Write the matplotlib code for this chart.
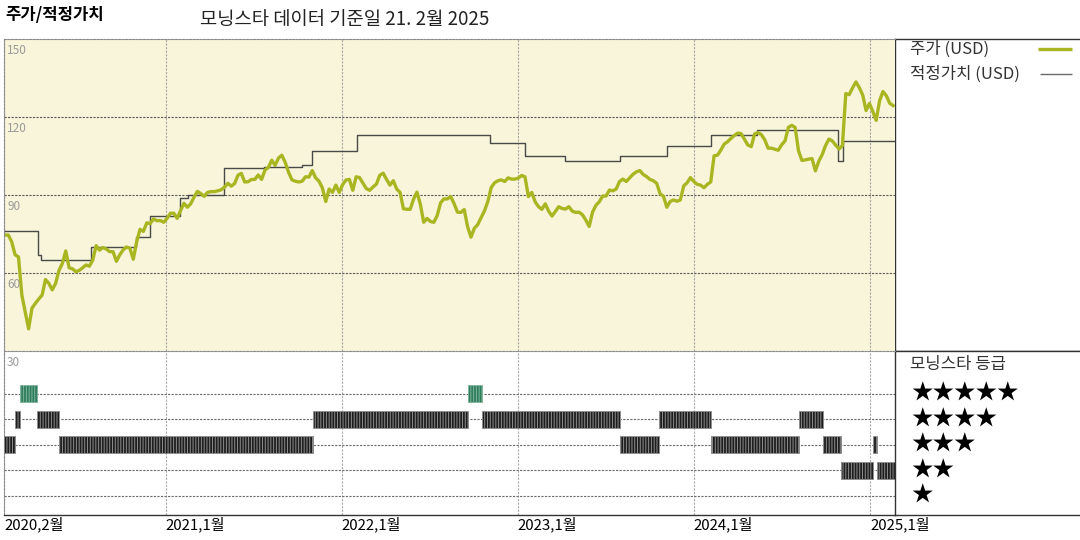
import matplotlib.pyplot as plt
import matplotlib.dates as mdates
import matplotlib.transforms as mtransforms
import pandas as pd

plt.rcParams['font.family'] = ['Noto Sans CJK KR', 'DejaVu Sans']
plt.rcParams['hatch.linewidth'] = 0.7

# weekly closing price (USD)
price_start = "2020-02-03"
price = [
    74.6, 74.6, 72.0, 67.0, 66.2, 51.5, 45.0, 38.5, 46.5, 48.3,
    50.0, 51.5, 57.5, 56.0, 53.5, 56.0, 61.0, 63.7, 68.5, 62.0,
    61.6, 60.5, 61.0, 62.0, 63.1, 62.6, 65.0, 70.5, 68.8, 69.8,
    69.2, 68.2, 68.2, 64.5, 67.0, 68.9, 70.0, 69.5, 65.3, 72.0,
    76.8, 76.0, 79.3, 79.0, 80.8, 80.1, 80.2, 79.5, 81.0, 83.0,
    83.0, 81.0, 84.0, 86.8, 85.3, 86.6, 89.2, 91.4, 90.5, 89.5,
    91.0, 91.3, 91.3, 91.6, 92.0, 93.0, 94.5, 93.4, 94.4, 97.6,
    98.3, 95.0, 95.1, 96.0, 96.0, 97.7, 96.0, 99.6, 100.6, 103.4,
    101.4, 104.2, 105.3, 102.5, 98.7, 95.8, 95.3, 95.0, 95.3, 97.0,
    96.9, 99.4, 96.6, 95.3, 92.7, 87.5, 92.3, 91.0, 93.8, 91.0,
    94.0, 95.8, 96.0, 91.8, 97.0, 96.7, 94.6, 92.5, 91.8, 93.1,
    94.2, 97.6, 98.4, 96.0, 93.8, 95.5, 92.3, 91.0, 84.7, 84.5,
    84.5, 88.4, 91.1, 86.5, 79.5, 81.0, 79.8, 79.5, 82.1, 87.0,
    88.5, 88.5, 89.4, 86.7, 83.4, 83.3, 84.4, 77.8, 73.8, 77.2,
    78.6, 81.3, 83.9, 87.5, 92.9, 94.7, 95.5, 95.8, 95.2, 96.6,
    96.1, 96.1, 96.5, 97.5, 97.0, 89.4, 91.0, 87.4, 85.5, 84.5,
    86.6, 83.8, 81.9, 83.7, 85.5, 84.8, 84.6, 85.5, 83.8, 83.3,
    83.4, 82.4, 80.4, 77.9, 83.4, 86.0, 87.4, 89.6, 89.6, 91.9,
    91.6, 92.3, 95.2, 96.1, 95.2, 96.6, 98.0, 98.9, 99.4, 97.9,
    97.1, 96.0, 95.5, 94.5, 90.5, 89.5, 85.3, 87.5, 88.1, 87.6,
    88.1, 93.5, 94.7, 96.7, 95.2, 94.1, 93.8, 92.8, 94.1, 95.0,
    105.1, 105.3, 107.3, 109.6, 110.5, 111.8, 112.9, 113.8, 113.6, 111.4,
    109.2, 108.6, 113.5, 114.0, 113.2, 111.2, 108.0, 108.0, 107.6, 107.2,
    109.3, 110.8, 116.0, 116.8, 116.0, 107.0, 103.3, 103.5, 103.8, 104.0,
    99.3, 103.0, 105.5, 109.0, 111.5, 110.8, 109.2, 107.7, 109.0, 129.0,
    128.6, 131.2, 133.5, 131.3, 128.5, 122.5, 125.2, 122.1, 118.7, 126.2,
    129.8, 128.2, 125.3, 124.4,
]

# fair value (USD), a step line
fair_dates = [
    "2020-02-01", "2020-04-12", "2020-04-18", "2020-07-31", "2020-11-01",
    "2020-11-29", "2021-01-30", "2021-02-16", "2021-05-03", "2021-07-25",
    "2021-10-10", "2021-11-01", "2022-02-01", "2022-11-04", "2023-01-16",
    "2023-04-09", "2023-07-31", "2023-11-07", "2024-02-06", "2024-05-11",
    "2024-10-25", "2024-11-06", "2025-02-19",
]
fair_values = [
    76.0, 67.0, 65.0, 70.0, 74.0,
    82.0, 88.7, 90.0, 100.3, 100.9,
    101.5, 107.0, 113.0, 110.0, 105.0,
    103.0, 105.0, 108.8, 112.9, 114.9,
    103.0, 110.8, 110.8,
]

# morningstar rating periods
rating_start = [
    "2020-02-01", "2020-02-24", "2020-03-06", "2020-04-10", "2020-05-25",
    "2021-11-03", "2022-09-20", "2022-10-19", "2023-07-31", "2023-10-20",
    "2024-02-05", "2024-08-05", "2024-09-24", "2024-11-01", "2025-01-07",
    "2025-01-15",
]
rating_end = [
    "2020-02-24", "2020-03-06", "2020-04-10", "2020-05-25", "2021-11-03",
    "2022-09-20", "2022-10-19", "2023-07-31", "2023-10-20", "2024-02-05",
    "2024-08-05", "2024-09-24", "2024-11-01", "2025-01-07", "2025-01-15",
    "2025-02-21",
]
rating_stars = [3, 4, 5, 4, 3, 4, 5, 4, 3, 4, 3, 4, 3, 2, 3, 2]

x_ticks = ["2020-02-01", "2021-01-01", "2022-01-01", "2023-01-01", "2024-01-01", "2025-01-01"]
x_labels = ["2020,2월", "2021,1월", "2022,1월", "2023,1월", "2024,1월", "2025,1월"]
y_ticks = [30, 60, 90, 120, 150]
x_start, x_end = "2020-02-01", "2025-02-21"

PRICE_COLOR = "#a9b622"
FAIR_COLOR = "#4a4a4a"
BG = "#f9f5da"
GRID = dict(linestyle=(0, (2, 1.2)), linewidth=0.8)

fig = plt.figure(figsize=(10.8, 5.4), dpi=100)
L, R = 4 / 1080, 895 / 1080
ax = fig.add_axes([L, 189 / 540, R - L, 312 / 540])
axb = fig.add_axes([L, 25 / 540, R - L, 164 / 540], sharex=ax)
axr = fig.add_axes([R, 189 / 540, 1 - R, 312 / 540])
axrb = fig.add_axes([R, 25 / 540, 1 - R, 164 / 540])
ax.set_zorder(3)

# price chart
dates = pd.date_range(price_start, periods=len(price), freq="7D")
ax.set_facecolor(BG)
ax.step(pd.to_datetime(fair_dates), fair_values, where="post",
        color=FAIR_COLOR, linewidth=1.0)
ax.plot(dates, price, color=PRICE_COLOR, linewidth=2.4)
ax.set_ylim(30, 150)
ax.set_xlim(pd.Timestamp(x_start), pd.Timestamp(x_end))
ax.set_yticks(y_ticks[1:-1])
ax.set_xticks(pd.to_datetime(x_ticks[1:]))
ax.tick_params(length=0, labelleft=False, labelbottom=False)
ax.grid(axis="y", color="#5a5a5a", **GRID)
ax.grid(axis="x", color="#a8a8a8", **GRID)
for side in ["top", "left", "bottom"]:
    ax.spines[side].set_color("#8a8a8a")
    ax.spines[side].set_linestyle((0, (2, 1.2)))
    ax.spines[side].set_linewidth(0.8)
ax.spines["right"].set_visible(False)

ylab = mtransforms.offset_copy(
    mtransforms.blended_transform_factory(ax.transAxes, ax.transData),
    fig=fig, x=3, y=-5, units="dots")
for v in y_ticks:
    ax.text(0.0, v, str(v), transform=ylab, va="top", ha="left",
            fontsize=8.5, color="#9a9a9a", clip_on=False)

# rating chart
for s, e, r in zip(rating_start, rating_end, rating_stars):
    s0 = mdates.date2num(pd.Timestamp(s))
    e0 = mdates.date2num(pd.Timestamp(e))
    if r == 5:
        fc, hc = "#2f7d5c", "#7fb59c"
    else:
        fc, hc = "#1e1e1e", "#8e8e8e"
    axb.broken_barh([(s0, e0 - s0)], (r - 0.33, 0.66), facecolor=fc,
                    edgecolor=hc, hatch="||||||", linewidth=0.6, zorder=3)
axb.set_ylim(0.26, 6.67)
axb.set_yticks([1, 2, 3, 4, 5])
axb.grid(axis="y", color="#6a6a6a", **GRID)
axb.grid(axis="x", color="#a8a8a8", **GRID)
axb.set_xticks(pd.to_datetime(x_ticks))
axb.set_xticklabels(x_labels)
for lab in axb.get_xticklabels():
    lab.set_horizontalalignment("left")
axb.tick_params(length=0, labelleft=False, labelsize=10.8, pad=1)
axb.spines["top"].set_visible(False)
axb.spines["right"].set_visible(False)
axb.spines["left"].set_color("#8a8a8a")
axb.spines["left"].set_linestyle((0, (2, 1.2)))
axb.spines["left"].set_linewidth(0.8)
axb.spines["bottom"].set_color("#333333")
axb.spines["bottom"].set_linewidth(1.0)

# right side panels
for a in (axr, axrb):
    a.set_xticks([])
    a.set_yticks([])
    a.spines["right"].set_visible(False)
    for side in ["left", "top", "bottom"]:
        a.spines[side].set_color("#333333")
        a.spines[side].set_linewidth(1.0)
axrb.set_ylim(axb.get_ylim())

# legend: label first, line sample after
legend_items = [("주가 (USD)", PRICE_COLOR, 2.4, 0.968, 0.773),
                ("적정가치 (USD)", "#6a6a6a", 1.0, 0.888, 0.783)]
for label, color, lw, y, x0 in legend_items:
    axr.text(0.081, y, label, transform=axr.transAxes, va="center",
             ha="left", fontsize=12, color="#333333")
    axr.plot([x0, 0.957], [y, y], transform=axr.transAxes, color=color,
             linewidth=lw, solid_capstyle="butt")

axrb.text(0.081, 0.92, "모닝스타 등급", transform=axrb.transAxes, va="center",
          ha="left", fontsize=12, color="#333333")
star_tr = mtransforms.blended_transform_factory(axrb.transAxes, axrb.transData)
for n in [5, 4, 3, 2, 1]:
    axrb.text(0.085, n, "★" * n, transform=star_tr, va="center", ha="left",
              fontsize=15.5, color="black")

# titles
fig.text(5 / 1080, 1 - 15 / 540, "주가/적정가치", fontsize=12, fontweight="bold",
         va="center", ha="left")
fig.text(200 / 1080, 1 - 20 / 540, "모닝스타 데이터 기준일 21. 2월 2025",
         fontsize=13.5, va="center", ha="left", color="#222222")

fig.savefig("out.png", dpi=100, facecolor="white")
